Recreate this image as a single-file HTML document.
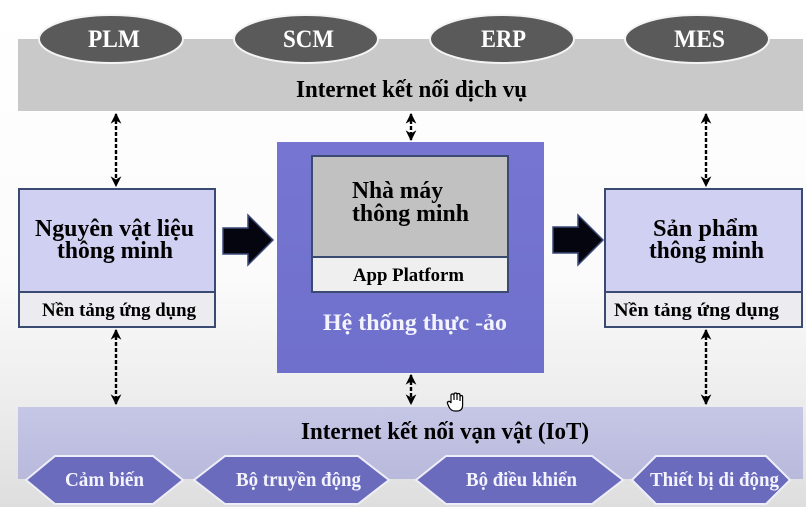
<!DOCTYPE html>
<html><head><meta charset="utf-8">
<style>
html,body{margin:0;padding:0;}
body{width:806px;height:507px;overflow:hidden;background:#fff;}
svg{display:block;}
text{font-family:"Liberation Serif","DejaVu Serif",serif;font-weight:bold;}
</style></head>
<body>
<svg width="806" height="507" viewBox="0 0 806 507" xmlns="http://www.w3.org/2000/svg">
<defs>
  <linearGradient id="bg" x1="0" y1="0" x2="0" y2="1">
    <stop offset="0" stop-color="#ffffff"/>
    <stop offset="0.55" stop-color="#fbfbfb"/>
    <stop offset="0.8" stop-color="#ececec"/>
    <stop offset="1" stop-color="#dedede"/>
  </linearGradient>
  <linearGradient id="iot" x1="0" y1="0" x2="0" y2="1">
    <stop offset="0" stop-color="#c6c6e6"/>
    <stop offset="1" stop-color="#b9b9dc"/>
  </linearGradient>
  <linearGradient id="purple" x1="0" y1="0" x2="0" y2="1">
    <stop offset="0" stop-color="#7676d2"/>
    <stop offset="1" stop-color="#6f6fcc"/>
  </linearGradient>
  <marker id="ah" viewBox="0 0 10 10" refX="9" refY="5" markerWidth="4.5" markerHeight="4.5" orient="auto-start-reverse">
    <path d="M0,0 L10,5 L0,10 L3,5 z" fill="#000"/>
  </marker>
</defs>
<rect x="0" y="0" width="806" height="507" fill="url(#bg)"/>

<!-- top band -->
<rect x="18" y="39" width="785" height="72" fill="#c9c9c9"/>
<g fill="#5a5a5a" stroke="#f4f4f4" stroke-width="2">
  <ellipse cx="111" cy="39" rx="72" ry="24"/>
  <ellipse cx="306" cy="39" rx="72" ry="24"/>
  <ellipse cx="502" cy="39" rx="72" ry="24"/>
  <ellipse cx="697" cy="39" rx="72" ry="24"/>
</g>
<g fill="#fff" font-size="25">
  <text x="88" y="47" textLength="52" lengthAdjust="spacingAndGlyphs">PLM</text>
  <text x="283" y="47" textLength="51" lengthAdjust="spacingAndGlyphs">SCM</text>
  <text x="481" y="47" textLength="45" lengthAdjust="spacingAndGlyphs">ERP</text>
  <text x="674" y="47" textLength="51" lengthAdjust="spacingAndGlyphs">MES</text>
</g>
<text x="296" y="97" font-size="24" fill="#000" textLength="231" lengthAdjust="spacingAndGlyphs">Internet kết nối dịch vụ</text>

<!-- dashed arrows -->
<g stroke="#000" stroke-width="2.4" stroke-dasharray="4,2" fill="none" marker-start="url(#ah)" marker-end="url(#ah)">
  <line x1="116" y1="114" x2="116" y2="186"/>
  <line x1="411" y1="114" x2="411" y2="140"/>
  <line x1="706" y1="114" x2="706" y2="186"/>
  <line x1="116" y1="330" x2="116" y2="404"/>
  <line x1="411" y1="375" x2="411" y2="404"/>
  <line x1="706" y1="330" x2="706" y2="404"/>
</g>

<!-- left box -->
<rect x="19" y="189" width="196" height="103" fill="#d0d0f2" stroke="#3b4a70" stroke-width="2"/>
<rect x="19" y="292" width="196" height="35" fill="#ececf0" stroke="#3b4a70" stroke-width="2"/>
<g fill="#000">
  <text x="35" y="236" font-size="24" textLength="159" lengthAdjust="spacingAndGlyphs">Nguyên vật liệu</text>
  <text x="57" y="258" font-size="24" textLength="116" lengthAdjust="spacingAndGlyphs">thông minh</text>
  <text x="42" y="316" font-size="18.5" textLength="154" lengthAdjust="spacingAndGlyphs">Nền tảng ứng dụng</text>
</g>

<!-- big arrows -->
<path d="M223,228 L248,228 L248,215 L273,240 L248,265 L248,254 L223,254 Z" fill="#050510" stroke="#3a4a78" stroke-width="1.5"/>
<path d="M553,227 L578,227 L578,215 L603,240 L578,265 L578,253 L553,253 Z" fill="#050510" stroke="#3a4a78" stroke-width="1.5"/>

<!-- center purple box -->
<rect x="277" y="142" width="267" height="231" fill="url(#purple)"/>
<rect x="312" y="156" width="196" height="101" fill="#c1c1c1" stroke="#3b4a70" stroke-width="2"/>
<rect x="312" y="257" width="196" height="35" fill="#efefef" stroke="#3b4a70" stroke-width="2"/>
<g fill="#000">
  <text x="352" y="198" font-size="24" textLength="91" lengthAdjust="spacingAndGlyphs">Nhà máy</text>
  <text x="352" y="221" font-size="24" textLength="117" lengthAdjust="spacingAndGlyphs">thông minh</text>
  <text x="353" y="281" font-size="18.5" textLength="111" lengthAdjust="spacingAndGlyphs">App Platform</text>
</g>
<text x="323" y="330" font-size="23" fill="#f4f4ff" textLength="184" lengthAdjust="spacingAndGlyphs">Hệ thống thực -ảo</text>

<!-- right box -->
<rect x="605" y="189" width="197" height="103" fill="#d0d0f2" stroke="#3b4a70" stroke-width="2"/>
<rect x="605" y="292" width="197" height="35" fill="#ececf0" stroke="#3b4a70" stroke-width="2"/>
<g fill="#000">
  <text x="653" y="236" font-size="24" textLength="105" lengthAdjust="spacingAndGlyphs">Sản phẩm</text>
  <text x="649" y="258" font-size="24" textLength="115" lengthAdjust="spacingAndGlyphs">thông minh</text>
  <text x="614" y="316" font-size="18.5" textLength="165" lengthAdjust="spacingAndGlyphs">Nền tảng ứng dụng</text>
</g>

<!-- bottom band -->
<rect x="18" y="407" width="785" height="72" fill="url(#iot)"/>
<text x="301" y="439" font-size="24" fill="#000" textLength="288" lengthAdjust="spacingAndGlyphs">Internet kết nối vạn vật (IoT)</text>

<!-- hand cursor -->
<g transform="translate(447,393)" fill="#fff" stroke="#000" stroke-width="1.2">
  <path d="M4,8 L4,2.5 Q4,1 5.5,1 Q7,1 7,2.5 L7,7 L7,1.5 Q7,0 8.5,0 Q10,0 10,1.5 L10,7 L10,2 Q10,0.5 11.5,0.5 Q13,0.5 13,2 L13,8 L13,4 Q13,2.5 14.3,2.5 Q15.6,2.5 15.6,4 L15.6,12 Q15.6,18 10,18 L8,18 Q4,18 2,14 L0.5,10.5 Q0,9 1.5,8.5 Q3,8 4,10 Z"/>
</g>

<!-- hexagons -->
<g fill="#6b6bbd" stroke="#eeeef8" stroke-width="2">
  <polygon points="26,480 55,456 153,456 183,480 153,504 55,504"/>
  <polygon points="194,480 225,456 358,456 389,480 358,504 225,504"/>
  <polygon points="416,480 446,456 592,456 623,480 592,504 446,504"/>
  <polygon points="632,480 656,456 766,456 790,480 766,504 656,504"/>
</g>
<g fill="#f4f4ff" font-size="19.5">
  <text x="65" y="486" textLength="79" lengthAdjust="spacingAndGlyphs">Cảm biến</text>
  <text x="236" y="486" textLength="125" lengthAdjust="spacingAndGlyphs">Bộ truyền động</text>
  <text x="466" y="486" textLength="111" lengthAdjust="spacingAndGlyphs">Bộ điều khiển</text>
  <text x="650" y="486" textLength="129" lengthAdjust="spacingAndGlyphs">Thiết bị di động</text>
</g>
</svg>
</body></html>
